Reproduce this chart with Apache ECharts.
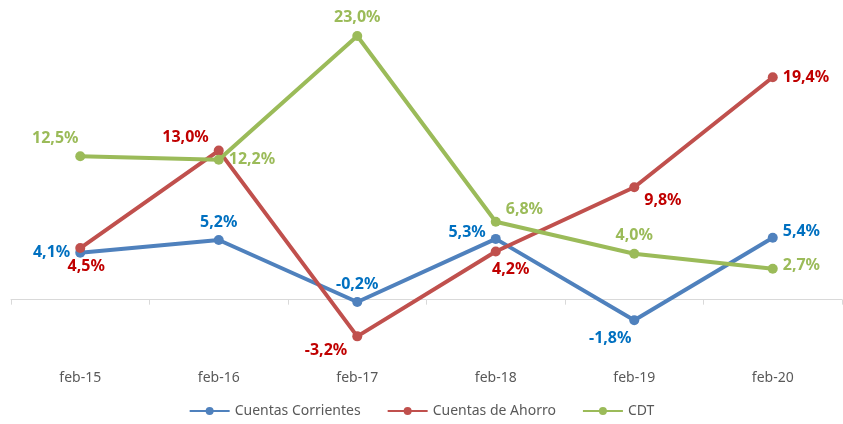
<!DOCTYPE html>
<html>
<head>
<meta charset="utf-8">
<script src="https://cdn.jsdelivr.net/npm/echarts@6/dist/echarts.min.js"></script>
<style>
html, body { margin: 0; padding: 0; background: #fff; }
#chart { width: 843px; height: 424px; }
</style>
</head>
<body>
<div id="chart"></div>
<script>
// datos
const categorias = ['feb-15', 'feb-16', 'feb-17', 'feb-18', 'feb-19', 'feb-20']
const corrientes = [4.1, 5.2, -0.2, 5.3, -1.8, 5.4]
const ahorro = [4.5, 13.0, -3.2, 4.2, 9.8, 19.4]
const cdt = [12.5, 12.2, 23.0, 6.8, 4.0, 2.7]

// donde va cada etiqueta
const posCorrientes = [['left', [0, 0]], ['top', [0, 0]], ['top', [0, 0]], ['left', [0, -6]], ['bottom', [-24, 0]], ['right', [0, -6]]]
const posAhorro = [['bottom', [6, 0]], ['left', [0, -13]], ['left', [0, 14]], ['bottom', [15, 0]], ['right', [0, 13]], ['right', [0, 0]]]
const posCdt = [['top', [-25, 0]], ['right', [0, 0]], ['top', [0, 0]], ['right', [0, -12]], ['top', [0, 0]], ['right', [0, -3]]]

function fmt(v) {
    return v.toFixed(1).replace('.', ',') + '%'
}

function puntos(vals, pos) {
    return vals.map((v, i) => ({
        value: v,
        label: { position: pos[i][0], offset: pos[i][1] }
    }))
}

function serie(name, vals, pos, color, labelColor) {
    return {
        name: name,
        type: 'line',
        xAxisIndex: 0,
        data: puntos(vals, pos),
        symbol: 'circle',
        symbolSize: 10,
        lineStyle: { width: 4, color: color },
        itemStyle: { color: color },
        label: {
            show: true,
            color: labelColor,
            fontWeight: 'bold',
            fontSize: 16,
            fontFamily: 'Noto Sans',
            distance: 5,
            formatter: p => fmt(p.value)
        }
    }
}

let charts = echarts.init(document.getElementById('chart'))
let config = {
    animation: false,
    textStyle: { fontFamily: 'Noto Sans' },
    grid: { left: 11, right: 1, top: 13, bottom: 67 },
    legend: {
        bottom: 1,
        left: 'center',
        itemWidth: 40,
        itemHeight: 10,
        itemGap: 26,
        textStyle: { color: '#595959', fontSize: 14 },
        data: ['Cuentas Corrientes', 'Cuentas de Ahorro', 'CDT']
    },
    xAxis: [
        {
            type: 'category',
            data: categorias,
            position: 'bottom',
            axisLine: { onZero: true, lineStyle: { color: '#D9D9D9', width: 1 } },
            axisTick: { show: true, length: 5, lineStyle: { color: '#D9D9D9' } },
            axisLabel: { show: false }
        },
        {
            type: 'category',
            data: categorias,
            position: 'bottom',
            axisLine: { show: false, onZero: false },
            axisTick: { show: false },
            axisLabel: { show: true, color: '#595959', fontSize: 14, margin: 14 }
        }
    ],
    yAxis: {
        type: 'value',
        min: -5,
        max: 25,
        show: false,
        splitLine: { show: false }
    },
    series: [
        serie('Cuentas Corrientes', corrientes, posCorrientes, '#4F81BD', '#0070C0'),
        serie('Cuentas de Ahorro', ahorro, posAhorro, '#C0504D', '#C00000'),
        serie('CDT', cdt, posCdt, '#9BBB59', '#9BBB59')
    ]
}
config && charts.setOption(config)
window.addEventListener('resize', () => charts.resize())
</script>
</body>
</html>
